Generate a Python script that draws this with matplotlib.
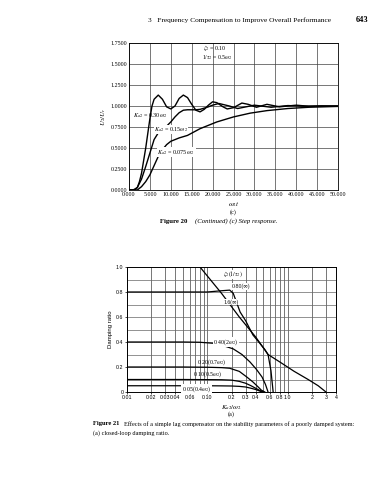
import numpy as np
import matplotlib
matplotlib.use('Agg')
import matplotlib.pyplot as plt
from matplotlib.ticker import FixedLocator, FixedFormatter

plt.rcParams['mathtext.fontset'] = 'stix'
plt.rcParams['font.family'] = ['Liberation Serif', 'DejaVu Serif']

# ---- Figure 20 (c): step response ----
t_030 = [0, 1, 1.5, 2, 2.5, 3, 3.5, 4, 4.6, 5.0, 5.5, 6, 7, 8, 9, 10, 11, 12, 13, 14,
         15, 16, 17, 18, 19, 20, 21, 22.5, 23.5, 25, 27, 28.5, 30.5, 33, 36, 40, 43,
         46, 50]
u_030 = [0, 0, 0.005, 0.03, 0.1, 0.2, 0.35, 0.5, 0.71, 0.85, 1.0, 1.08, 1.13, 1.08,
         0.99, 0.965, 1.0, 1.09, 1.13, 1.1, 1.02, 0.95, 0.93, 0.96, 1.01, 1.05, 1.04,
         0.99, 0.965, 0.98, 1.035, 1.02, 0.985, 1.02, 0.99, 1.01, 0.997, 1.002, 1.0]
t_015 = [0, 1, 2, 3, 4, 5, 6, 7, 8, 9, 10, 11, 12, 13, 14, 15, 16, 17, 18, 19, 20,
         21.5, 24, 26, 28, 30, 34, 38, 42, 50]
u_015 = [0, 0, 0.03, 0.13, 0.28, 0.44, 0.6, 0.68, 0.72, 0.76, 0.81, 0.87, 0.92, 0.95,
         0.955, 0.955, 0.955, 0.96, 0.975, 0.99, 1.01, 1.03, 1.0, 0.97, 0.99, 1.01,
         0.985, 1.005, 0.998, 1.0]
t_075 = [0, 1, 2, 3, 4, 5, 6, 7, 8, 9, 10, 12, 14, 17, 21, 25, 29, 33, 38, 43, 50]
u_075 = [0, 0, 0.0, 0.04, 0.1, 0.18, 0.29, 0.40, 0.48, 0.54, 0.58, 0.62, 0.65, 0.73,
         0.81, 0.87, 0.915, 0.945, 0.97, 0.985, 0.995]

# ---- Figure 21 (a): damping ratio vs Ka2/w2 ----
k_080 = [0.01, 0.05, 0.1, 0.15, 0.19, 0.21, 0.256, 0.3, 0.37, 0.45, 0.52, 0.57, 0.62, 0.66]
z_080 = [0.80, 0.80, 0.80, 0.81, 0.815, 0.79, 0.64, 0.57, 0.456, 0.39, 0.34, 0.30, 0.17, 0.0]
k_16 = [0.081, 0.15, 0.25, 0.4, 0.57, 0.8, 1.2, 1.8, 2.4, 3.0]
z_16 = [1.0, 0.79, 0.6, 0.44, 0.30, 0.24, 0.166, 0.10, 0.05, 0.0]
k_040 = [0.01, 0.05, 0.08, 0.118, 0.16, 0.21, 0.27, 0.34, 0.41, 0.48, 0.53, 0.57]
z_040 = [0.40, 0.40, 0.398, 0.39, 0.37, 0.345, 0.3, 0.24, 0.18, 0.12, 0.06, 0.0]
k_020 = [0.01, 0.05, 0.1, 0.15, 0.19, 0.25, 0.31, 0.37, 0.43, 0.47, 0.52]
z_020 = [0.20, 0.20, 0.198, 0.195, 0.19, 0.165, 0.12, 0.08, 0.04, 0.015, 0.0]
k_010 = [0.01, 0.05, 0.1, 0.15, 0.2, 0.25, 0.3, 0.35, 0.4, 0.45, 0.5]
z_010 = [0.10, 0.10, 0.099, 0.098, 0.095, 0.085, 0.07, 0.05, 0.03, 0.012, 0.0]
k_005 = [0.01, 0.05, 0.1, 0.15, 0.2, 0.25, 0.3, 0.35, 0.4, 0.44, 0.48]
z_005 = [0.05, 0.05, 0.05, 0.049, 0.048, 0.045, 0.04, 0.03, 0.02, 0.01, 0.0]

x21_ticks = [0.01, 0.02, 0.03, 0.04, 0.06, 0.10, 0.2, 0.3, 0.4, 0.6, 0.8, 1.0, 2, 3, 4]
x21_labels = ['0.01', '0.02', '0.03', '0.04', '0.06', '0.10', '0.2', '0.3', '0.4',
              '0.6', '0.8', '1.0', '2', '3', '4']

fig = plt.figure(figsize=(3.88, 4.80), dpi=100)

# page header
fig.text(148 / 388, 1 - 20 / 480, '3   Frequency Compensation to Improve Overall Performance',
         fontsize=5.3, va='center')
fig.text(356 / 388, 1 - 20 / 480, '643', fontsize=6, weight='bold', va='center')

# ---------------- top chart ----------------
ax1 = fig.add_axes([129 / 388, 1 - 190 / 480, 209 / 388, 147 / 480])
for t, u in [(t_030, u_030), (t_015, u_015), (t_075, u_075)]:
    ax1.plot(t, u, color='black', lw=1.0, zorder=3)
ax1.set_xlim(0, 50)
ax1.set_ylim(0, 1.75)
ax1.set_xticks(np.arange(0, 50.1, 5))
ax1.set_yticks(np.arange(0, 1.751, 0.25))
ax1.set_xticklabels([f'{v:.3f}' for v in np.arange(0, 50.1, 5)])
ax1.set_yticklabels([f'{v:.4f}' for v in np.arange(0, 1.751, 0.25)])
ax1.tick_params(length=0, labelsize=4.3, pad=1.5)
ax1.grid(True, color='0.25', lw=0.5)
for s in ax1.spines.values():
    s.set_linewidth(0.6)
ax1.set_ylabel('$U_2/U_r$', fontsize=5, labelpad=2)
ax1.set_xlabel(r'$\omega_2 t$', fontsize=5, labelpad=2)

ax1.text(17.6, 1.69, r'$\zeta_2$ = 0.10', fontsize=4.2, va='center')
ax1.text(17.4, 1.575, r'1/$\tau_2$ = 0.5$\omega_2$', fontsize=4.2, va='center')
box = dict(facecolor='white', edgecolor='none', pad=0.2)
ax1.text(0.9, 0.89, r'$K_{a2}$ = 0.30$\,\omega_2$', fontsize=4.4, va='center', zorder=4)
ax1.text(6.0, 0.72, r'$K_{a2}$ = 0.15$\omega_2$', fontsize=4.4, va='center', bbox=box, zorder=4)
ax1.text(6.8, 0.45, r'$K_{a2}$ = 0.075$\,\omega_2$', fontsize=4.4, va='center', bbox=box, zorder=4)

fig.text(233 / 388, 1 - 212 / 480, '(c)', fontsize=4.5, ha='center', va='center')
fig.text(160 / 388, 1 - 221 / 480, 'Figure 20', fontsize=4.9, weight='bold', va='center')
fig.text(195 / 388, 1 - 221 / 480, '(Continued) (c) Step response.', fontsize=4.9,
         style='italic', va='center')

# ---------------- bottom chart ----------------
ax2 = fig.add_axes([127 / 388, 1 - 392 / 480, 209 / 388, 125 / 480])
for k, z in [(k_080, z_080), (k_16, z_16), (k_040, z_040), (k_020, z_020),
             (k_010, z_010), (k_005, z_005)]:
    ax2.plot(k, z, color='black', lw=0.9, zorder=3)
ax2.set_xscale('log')
ax2.set_xlim(0.01, 4)
ax2.set_ylim(0, 1.0)
minor_x = [m * d for d in (0.01, 0.1, 1) for m in range(1, 10) if m * d <= 4]
for xv in minor_x:
    ax2.axvline(xv, color='0.25', lw=0.5, zorder=1)
for yv in np.arange(0.1, 1.0, 0.1):
    ax2.axhline(yv, color='0.4', lw=0.5, zorder=1)
ax2.xaxis.set_major_locator(FixedLocator(x21_ticks))
ax2.xaxis.set_major_formatter(FixedFormatter(x21_labels))
ax2.xaxis.set_minor_locator(FixedLocator([]))
ax2.set_yticks([0, 0.2, 0.4, 0.6, 0.8, 1.0])
ax2.set_yticklabels(['0', '0.2', '0.4', '0.6', '0.8', '1.0'])
ax2.tick_params(length=1.5, width=0.5, labelsize=3.8, pad=1)
for lab in ax2.get_xticklabels() + ax2.get_yticklabels():
    lab.set_family(['Liberation Sans', 'DejaVu Sans'])
for s in ax2.spines.values():
    s.set_linewidth(0.7)
ax2.set_ylabel('Damping ratio', fontsize=4.3, family=['Liberation Sans', 'DejaVu Sans'],
               labelpad=2)
ax2.set_xlabel(r'$K_{a2}/\omega_2$', fontsize=5, labelpad=2)

box2 = dict(facecolor='white', edgecolor='none', pad=0.2)
ax2.text(0.155, 0.94, r'$\zeta_2(1/\tau_2)$', fontsize=4.2, va='center', bbox=box2, zorder=4)
ax2.text(0.2, 0.845, '0.80(∞)', fontsize=4.2, va='center', bbox=box2, zorder=4)
ax2.text(0.157, 0.72, '1.6(∞)', fontsize=4.2, va='center', bbox=box2, zorder=4)
ax2.text(0.118, 0.40, r'0.40(2$\omega_2$)', fontsize=4.2, va='center', bbox=box2, zorder=4)
ax2.text(0.075, 0.24, r'0.20(0.7$\omega_2$)', fontsize=4.2, va='center', zorder=4)
ax2.text(0.066, 0.14, r'0.10(0.5$\omega_2$)', fontsize=4.2, va='center', zorder=4)
ax2.text(0.048, 0.025, r'0.05(0.4$\omega_2$)', fontsize=4.2, va='center', bbox=box2, zorder=4)

fig.text(231 / 388, 1 - 414 / 480, '(a)', fontsize=4.5, ha='center', va='center')
fig.text(93 / 388, 1 - 424 / 480, 'Figure 21', fontsize=4.7, weight='bold', va='center')
fig.text(124 / 388, 1 - 424 / 480,
         'Effects of a simple lag compensator on the stability parameters of a poorly damped system:',
         fontsize=4.5, va='center')
fig.text(93 / 388, 1 - 433 / 480, '(a) closed-loop damping ratio.', fontsize=4.5, va='center')

fig.savefig('out.png', dpi=100)
